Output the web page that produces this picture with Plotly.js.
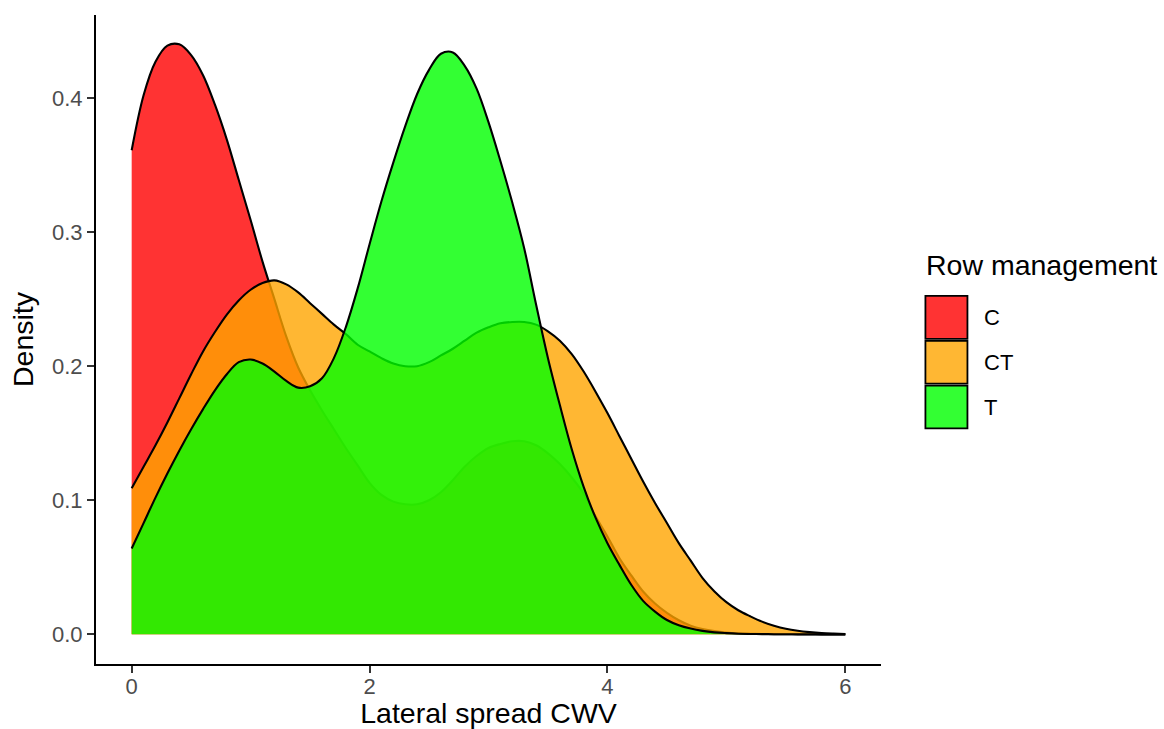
<!DOCTYPE html>
<html>
<head>
<meta charset="utf-8">
<script src="https://cdn.plot.ly/plotly-3.0.1.min.js"></script>
<style>
  html, body { margin: 0; padding: 0; background: #ffffff; }
  #chart { width: 1164px; height: 729px; }
</style>
</head>
<body>
<div id="chart"></div>
<script>
// ---- Data ----
const categories = ['C', 'CT', 'T'];
const fillColors = ['rgba(255,0,0,0.8)', 'rgba(255,165,0,0.8)', 'rgba(0,255,0,0.8)'];

const xValues = [
  0.0, 0.1, 0.2, 0.3, 0.4, 0.5, 0.6, 0.7, 0.8, 0.9,
  1.0, 1.1, 1.2, 1.3, 1.4, 1.5, 1.6, 1.7, 1.8, 1.9,
  2.0, 2.1, 2.2, 2.3, 2.4, 2.5, 2.6, 2.7, 2.8, 2.9,
  3.0, 3.1, 3.2, 3.3, 3.4, 3.5, 3.6, 3.7, 3.8, 3.9,
  4.0, 4.1, 4.2, 4.3, 4.4, 4.5, 4.6, 4.7, 4.8, 4.9,
  5.0, 5.1, 5.2, 5.3, 5.4, 5.5, 5.6, 5.7, 5.8, 5.9, 6.0
];

const densityC = [
  0.361, 0.402, 0.427, 0.439, 0.440, 0.432, 0.417, 0.395, 0.369, 0.339,
  0.309, 0.278, 0.250, 0.222, 0.199, 0.182, 0.167, 0.153, 0.139, 0.126,
  0.113, 0.104, 0.099, 0.097, 0.097, 0.100, 0.106, 0.115, 0.125, 0.133,
  0.139, 0.142, 0.144, 0.144, 0.141, 0.135, 0.127, 0.117, 0.105, 0.088,
  0.073, 0.057, 0.044, 0.032, 0.023, 0.016, 0.0105, 0.0065, 0.0040, 0.0024,
  0.0014, 0.0008, 0.0005, 0.0003, 0.0002, 0.0001, 0.0001, 0.0001, 0.0, 0.0, 0.0
];

const densityCT = [
  0.109, 0.125, 0.141, 0.158, 0.176, 0.194, 0.211, 0.2255, 0.2385, 0.249,
  0.257, 0.262, 0.264, 0.261, 0.255, 0.247, 0.239, 0.231, 0.224, 0.216,
  0.211, 0.206, 0.202, 0.200, 0.200, 0.203, 0.208, 0.213, 0.219, 0.225,
  0.229, 0.232, 0.233, 0.233, 0.231, 0.226, 0.219, 0.209, 0.196, 0.181,
  0.165, 0.148, 0.131, 0.114, 0.098, 0.083, 0.068, 0.055, 0.042, 0.032,
  0.024, 0.018, 0.0135, 0.0095, 0.0065, 0.0042, 0.0027, 0.0017, 0.0010, 0.0006, 0.0003
];

const densityT = [
  0.064, 0.083, 0.102, 0.120, 0.137, 0.153, 0.168, 0.182, 0.194, 0.203,
  0.205, 0.202, 0.196, 0.189, 0.184, 0.185, 0.191, 0.206, 0.229, 0.258,
  0.291, 0.323, 0.352, 0.379, 0.403, 0.421, 0.433, 0.434, 0.424, 0.407,
  0.382, 0.353, 0.322, 0.288, 0.246, 0.206, 0.171, 0.138, 0.110, 0.087,
  0.068, 0.052, 0.037, 0.025, 0.0170, 0.0107, 0.0068, 0.0043, 0.0026, 0.0015,
  0.0009, 0.0005, 0.0003, 0.0002, 0.0001, 0.0001, 0.0, 0.0, 0.0, 0.0, 0.0
];

const xTickVals = [0, 2, 4, 6];
const xTickText = ['0', '2', '4', '6'];
const yTickVals = [0.0, 0.1, 0.2, 0.3, 0.4];
const yTickText = ['0.0', '0.1', '0.2', '0.3', '0.4'];

const xAxisTitle = 'Lateral spread CWV';
const yAxisTitle = 'Density';
const legendTitle = 'Row management';

// ---- Layout helpers ----
const FONT = 'Liberation Sans, Arial, Helvetica, sans-serif';
const W = 1164, H = 729;
const M = { l: 96, r: 283.4, t: 15.2, b: 65.2 };
const plotW = W - M.l - M.r;
const plotH = H - M.t - M.b;
const px2paperX = px => (px - M.l) / plotW;
const py2paperY = py => (H - M.b - py) / plotH;

const seriesList = [densityC, densityCT, densityT];
const traces = seriesList.map((ys, i) => ({
  x: xValues,
  y: ys,
  name: categories[i],
  type: 'scatter',
  mode: 'lines',
  fill: 'tozeroy',
  fillcolor: fillColors[i],
  line: { color: '#000000', width: 2.1, shape: 'spline', smoothing: 1 },
  showlegend: false,
  hoverinfo: 'skip'
}));

// Custom legend (ggplot-like key boxes)
const shapes = [];
const annotations = [];
const keyLeft = 925, keyRight = 967, keyTop = 295, keyH = 44.8;
annotations.push({
  xref: 'paper', yref: 'paper',
  x: px2paperX(keyLeft - 1), y: py2paperY(265),
  xanchor: 'left', yanchor: 'middle',
  text: legendTitle, showarrow: false,
  font: { family: FONT, size: 28.5, color: '#000000' }
});
categories.forEach((cat, i) => {
  const y0 = keyTop + i * keyH;
  shapes.push({
    type: 'rect', xref: 'paper', yref: 'paper',
    x0: px2paperX(keyLeft), x1: px2paperX(keyRight),
    y0: py2paperY(y0 + 1), y1: py2paperY(y0 + keyH - 1),
    fillcolor: fillColors[i],
    line: { color: '#000000', width: 1.8 }
  });
  annotations.push({
    xref: 'paper', yref: 'paper',
    x: px2paperX(982), y: py2paperY(y0 + keyH / 2),
    xanchor: 'left', yanchor: 'middle',
    text: cat, showarrow: false,
    font: { family: FONT, size: 22, color: '#000000' }
  });
});

const layout = {
  width: W, height: H,
  margin: M,
  paper_bgcolor: '#ffffff',
  plot_bgcolor: '#ffffff',
  font: { family: FONT, color: '#000000' },
  showlegend: false,
  xaxis: {
    range: [-0.3, 6.3],
    tickmode: 'array', tickvals: xTickVals, ticktext: xTickText,
    ticks: 'outside', ticklen: 7, tickwidth: 2, tickcolor: '#333333',
    tickfont: { family: FONT, size: 22, color: '#4d4d4d' },
    ticklabelstandoff: -5,
    showline: true, linecolor: '#000000', linewidth: 2,
    showgrid: false, zeroline: false,
    automargin: false,
    title: { text: xAxisTitle, font: { family: FONT, size: 28.5, color: '#000000' }, standoff: 8 }
  },
  yaxis: {
    range: [-0.0221, 0.4619],
    tickmode: 'array', tickvals: yTickVals, ticktext: yTickText,
    ticks: 'outside', ticklen: 7, tickwidth: 2, tickcolor: '#333333',
    tickfont: { family: FONT, size: 22, color: '#4d4d4d' },
    showline: true, linecolor: '#000000', linewidth: 2,
    showgrid: false, zeroline: false,
    automargin: false,
    title: { text: yAxisTitle, font: { family: FONT, size: 28.5, color: '#000000' }, standoff: 10 }
  },
  shapes: shapes,
  annotations: annotations
};

Plotly.newPlot('chart', traces, layout, { staticPlot: true, displayModeBar: false });
</script>
</body>
</html>
